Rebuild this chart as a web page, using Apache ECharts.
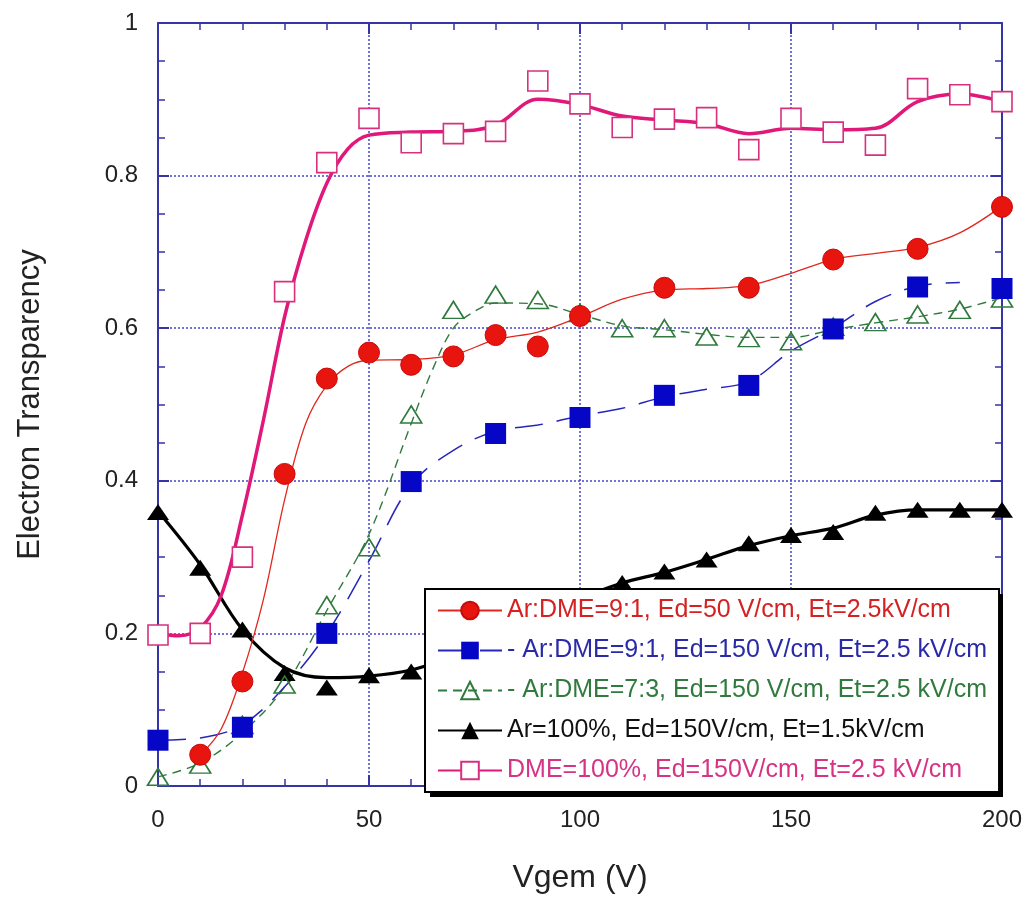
<!DOCTYPE html>
<html>
<head>
<meta charset="utf-8">
<script src="https://cdn.jsdelivr.net/npm/echarts@6/dist/echarts.min.js"></script>
<style>
  html, body { margin: 0; padding: 0; background: #fff; }
  #chart { width: 1027px; height: 899px; }
</style>
</head>
<body>
<div id="chart"></div>
<script>
// measured points (markers)
var redX = [10, 20, 30, 40, 50, 60, 70, 80, 90, 100, 120, 140, 160, 180, 200];
var redY = [0.041, 0.137, 0.409, 0.534, 0.568, 0.552, 0.563, 0.591, 0.576, 0.616, 0.653, 0.653, 0.690, 0.704, 0.759];
var blueX = [0, 20, 40, 60, 80, 100, 120, 140, 160, 180, 200];
var blueY = [0.060, 0.077, 0.200, 0.399, 0.462, 0.483, 0.512, 0.525, 0.599, 0.654, 0.652];
var greenX = [0, 10, 20, 30, 40, 50, 60, 70, 80, 90, 100, 110, 120, 130, 140, 150, 160, 170, 180, 190, 200];
var greenY = [0.012, 0.028, 0.080, 0.133, 0.237, 0.313, 0.487, 0.624, 0.644, 0.637, 0.620, 0.600, 0.600, 0.589, 0.587, 0.583, 0.602, 0.608, 0.618, 0.624, 0.639];
var blackX = [0, 10, 20, 30, 40, 50, 60, 70, 80, 90, 100, 110, 120, 130, 140, 150, 160, 170, 180, 190, 200];
var blackY = [0.359, 0.286, 0.205, 0.148, 0.129, 0.145, 0.150, 0.165, 0.185, 0.210, 0.240, 0.266, 0.281, 0.297, 0.318, 0.329, 0.333, 0.358, 0.362, 0.362, 0.362];
var pinkX = [0, 10, 20, 30, 40, 50, 60, 70, 80, 90, 100, 110, 120, 130, 140, 150, 160, 170, 180, 190, 200];
var pinkY = [0.198, 0.200, 0.300, 0.648, 0.817, 0.875, 0.843, 0.855, 0.858, 0.924, 0.894, 0.863, 0.874, 0.876, 0.834, 0.875, 0.857, 0.840, 0.914, 0.906, 0.897];

// fitted curves
var redFitX = [10, 15, 20, 25, 30, 35, 40, 45, 50, 60, 70, 80, 90, 100, 110, 120, 130, 140, 150, 160, 170, 180, 190, 200];
var redFitY = [0.040, 0.075, 0.148, 0.245, 0.375, 0.475, 0.525, 0.550, 0.558, 0.559, 0.565, 0.585, 0.595, 0.615, 0.638, 0.650, 0.652, 0.656, 0.672, 0.690, 0.698, 0.706, 0.725, 0.760];
var blueFitX = [0, 10, 20, 30, 40, 50, 60, 70, 80, 90, 100, 110, 120, 130, 140, 150, 160, 170, 180, 190];
var blueFitY = [0.060, 0.063, 0.080, 0.130, 0.200, 0.295, 0.395, 0.440, 0.465, 0.473, 0.485, 0.495, 0.510, 0.520, 0.530, 0.570, 0.600, 0.635, 0.655, 0.660];
var greenFitX = [0, 10, 20, 30, 40, 50, 60, 65, 70, 75, 80, 90, 100, 110, 120, 130, 140, 150, 160, 170, 180, 190, 200];
var greenFitY = [0.012, 0.030, 0.070, 0.130, 0.230, 0.330, 0.475, 0.545, 0.600, 0.622, 0.633, 0.632, 0.618, 0.603, 0.598, 0.592, 0.588, 0.588, 0.598, 0.607, 0.615, 0.625, 0.640];
var blackFitX = [0, 10, 20, 30, 40, 50, 60, 70, 80, 90, 100, 110, 120, 130, 140, 150, 160, 170, 180, 190, 200];
var blackFitY = [0.360, 0.290, 0.205, 0.155, 0.142, 0.144, 0.152, 0.170, 0.190, 0.215, 0.245, 0.266, 0.280, 0.297, 0.315, 0.328, 0.338, 0.355, 0.362, 0.362, 0.362];
var pinkFitX = [0, 5, 10, 15, 20, 25, 30, 35, 40, 45, 50, 60, 70, 80, 90, 100, 110, 120, 130, 140, 150, 160, 170, 180, 190, 200];
var pinkFitY = [0.200, 0.197, 0.207, 0.250, 0.355, 0.480, 0.615, 0.715, 0.790, 0.835, 0.853, 0.857, 0.858, 0.866, 0.900, 0.893, 0.878, 0.873, 0.868, 0.855, 0.862, 0.860, 0.862, 0.897, 0.907, 0.897];

var names = [
  'Ar:DME=9:1, Ed=50 V/cm, Et=2.5kV/cm',
  '- Ar:DME=9:1, Ed=150 V/cm, Et=2.5 kV/cm',
  '- Ar:DME=7:3, Ed=150 V/cm, Et=2.5 kV/cm',
  'Ar=100%, Ed=150V/cm, Et=1.5kV/cm',
  'DME=100%, Ed=150V/cm, Et=2.5 kV/cm'
];
var textColors = ['#d42222', '#2a2aa8', '#2f7a3c', '#111111', '#d63384'];

var FONT = '"Liberation Sans", Arial, Helvetica, sans-serif';
var FRAME = '#3535a8';

function pairs(xs, ys) {
  return xs.map(function (x, i) { return [x, ys[i]]; });
}

// one smooth fit line + one marker set per data set
function makeSeries(name, fitX, fitY, ptX, ptY, opt) {
  var line = {
    name: name,
    type: 'line',
    smooth: 0.35,
    showSymbol: false,
    symbol: opt.symbol,
    symbolSize: opt.size,
    itemStyle: opt.itemStyle,
    lineStyle: { color: opt.lineColor, width: opt.lineWidth, type: opt.lineType || 'solid' },
    z: 2,
    silent: true,
    data: pairs(fitX, fitY)
  };
  var marks = {
    name: name,
    type: 'scatter',
    symbol: opt.symbol,
    symbolSize: opt.size,
    itemStyle: Object.assign({ opacity: 1 }, opt.itemStyle),
    z: 3,
    data: pairs(ptX, ptY)
  };
  return [line, marks];
}

var series = [].concat(
  makeSeries(names[3], blackFitX, blackFitY, blackX, blackY, {
    symbol: 'triangle', size: [22, 16], lineColor: '#000', lineWidth: 3.2,
    itemStyle: { color: '#000', borderColor: '#000', borderWidth: 0 }
  }),
  makeSeries(names[2], greenFitX, greenFitY, greenX, greenY, {
    symbol: 'triangle', size: [21, 17], lineColor: '#2f7a3c', lineWidth: 1.4, lineType: [9, 6],
    itemStyle: { color: 'rgba(255,255,255,0)', borderColor: '#2f7a3c', borderWidth: 1.6 }
  }),
  makeSeries(names[1], blueFitX, blueFitY, blueX, blueY, {
    symbol: 'rect', size: 21, lineColor: '#2626b8', lineWidth: 1.5, lineType: [28, 14],
    itemStyle: { color: '#0606c6', borderColor: '#0606c6', borderWidth: 0 }
  }),
  makeSeries(names[0], redFitX, redFitY, redX, redY, {
    symbol: 'circle', size: 21, lineColor: '#e0281e', lineWidth: 1.3,
    itemStyle: { color: '#e8140e', borderColor: '#c80a0a', borderWidth: 1 }
  }),
  makeSeries(names[4], pinkFitX, pinkFitY, pinkX, pinkY, {
    symbol: 'rect', size: 20, lineColor: '#e0187a', lineWidth: 3.5,
    itemStyle: { color: '#ffffff', borderColor: '#d8307e', borderWidth: 1.6 }
  })
);

var axisCommon = {
  axisLine: { show: true, onZero: false, lineStyle: { color: FRAME, width: 2 } },
  axisTick: { show: true, inside: true, length: 11, lineStyle: { color: FRAME, width: 2 } },
  minorTick: { show: true, length: 7, lineStyle: { color: FRAME, width: 1.5 } }
};

function xAxisDef(pos, withLabels) {
  return Object.assign({
    type: 'value', position: pos, min: 0, max: 200, interval: 50,
    minorTick: Object.assign({ splitNumber: 5 }, axisCommon.minorTick),
    axisLabel: { show: withLabels, fontSize: 24, color: '#222', margin: 22, fontFamily: FONT },
    splitLine: { show: withLabels, lineStyle: { color: '#4444cc', width: 1.5, type: [2, 2] } }
  }, { axisLine: axisCommon.axisLine, axisTick: axisCommon.axisTick });
}

function yAxisDef(pos, withLabels) {
  return Object.assign({
    type: 'value', position: pos, min: 0, max: 1, interval: 0.2,
    minorTick: Object.assign({ splitNumber: 4 }, axisCommon.minorTick),
    axisLabel: { show: withLabels, fontSize: 24, color: '#222', margin: 20, fontFamily: FONT },
    splitLine: { show: withLabels, lineStyle: { color: '#4444cc', width: 1.5, type: [2, 2] } }
  }, { axisLine: axisCommon.axisLine, axisTick: axisCommon.axisTick });
}

var xMain = xAxisDef('bottom', true);
xMain.name = 'Vgem (V)';
xMain.nameLocation = 'middle';
xMain.nameGap = 76;
xMain.nameTextStyle = { fontSize: 32, color: '#222', fontFamily: FONT };

var yMain = yAxisDef('left', true);
yMain.name = 'Electron Transparency';
yMain.nameLocation = 'middle';
yMain.nameGap = 112;
yMain.nameTextStyle = { fontSize: 31, color: '#222', fontFamily: FONT };

var chart = echarts.init(document.getElementById('chart'), null, { renderer: 'canvas' });
chart.setOption({
  backgroundColor: '#ffffff',
  animation: false,
  grid: { left: 158, right: 25, top: 23, bottom: 107, containLabel: false },
  xAxis: [xMain, xAxisDef('top', false)],
  yAxis: [yMain, yAxisDef('right', false)],
  legend: {
    orient: 'vertical',
    left: 425,
    top: 589,
    z: 5,
    backgroundColor: '#ffffff',
    borderColor: '#000',
    borderWidth: 2,
    padding: [9, 12, 9, 12],
    itemWidth: 64,
    itemHeight: 22,
    itemGap: 15,
    selectedMode: false,
    textStyle: { fontSize: 25, fontFamily: FONT, width: 480 },
    data: names.map(function (n, i) {
      return { name: n, textStyle: { color: textColors[i] } };
    })
  },
  // drop shadow behind the legend box
  graphic: [{
    type: 'rect',
    z: 4,
    silent: true,
    shape: { x: 430, y: 594, width: 573, height: 203 },
    style: { fill: '#000' }
  }],
  series: series
});
</script>
</body>
</html>
